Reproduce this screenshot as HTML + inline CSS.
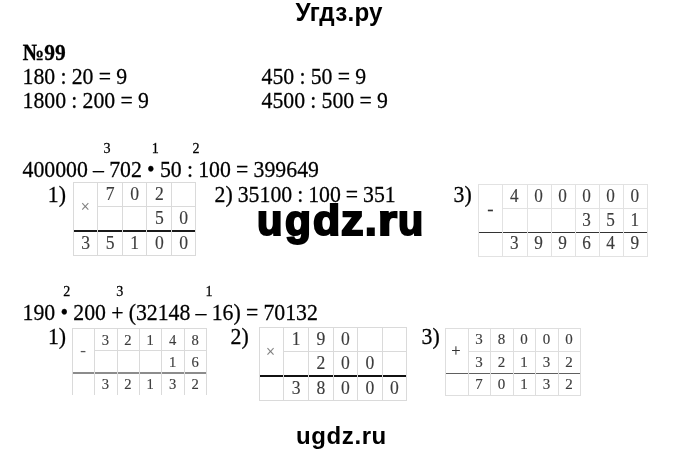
<!DOCTYPE html>
<html><head><meta charset="utf-8">
<style>
html,body{margin:0;padding:0;background:#fff;}
body{width:680px;height:454px;position:relative;overflow:hidden;filter:blur(0.3px);font-family:"Liberation Serif",serif;color:#000;}
.t{position:absolute;white-space:nowrap;line-height:1;word-spacing:-0.25px;}
.b{margin:0;}
.sr{transform:scaleY(1.08);transform-origin:0 83.75%;-webkit-text-stroke:0.25px #000;}
.hd{font-family:"Liberation Sans",sans-serif;font-weight:bold;}
.wm{top:199.9px;font-size:42.2px;-webkit-text-stroke:2.1px #000;transform-origin:0 0;}
.tb{position:absolute;}
.tb i{position:absolute;display:block;}
.tb b{position:absolute;display:block;width:20px;text-align:center;line-height:1;font-weight:normal;transform:scaleY(1.04);-webkit-text-stroke:0.15px currentColor;}
</style></head><body>
<div class="t hd" id="h1" style="left:295.5px;top:0.98px;font-size:24.2px;letter-spacing:0.25px;transform:scaleY(1.05);transform-origin:0 84.65%;">Угдз.ру</div>
<div class="t hd wm" id="wm0" style="left:257.27px;transform:scaleX(0.988);">u</div><div class="t hd wm" id="wm1" style="left:284.72px;transform:scaleX(1.007);">g</div><div class="t hd wm" id="wm2" style="left:312.67px;transform:scaleX(1.055);">d</div><div class="t hd wm" id="wm3" style="left:340.66px;transform:scaleX(1.065);">z</div><div class="t hd wm" id="wm4" style="left:364.56px;transform:scaleX(0.993);">.</div><div class="t hd wm" id="wm5" style="left:378.24px;transform:scaleX(1.157);">r</div><div class="t hd wm" id="wm6" style="left:397.69px;transform:scaleX(0.978);">u</div>
<div class="t hd" id="ft" style="left:296px;top:424.2px;font-size:24px;letter-spacing:0.6px;">ugdz.ru</div>
<div class="t sr" id="n99" style="left:22.60px;top:42.56px;font-size:21.5px;font-weight:bold;">№99</div>
<div class="t sr" id="l1" style="left:22.50px;top:66.72px;font-size:21.8px;">180 : 20 = 9</div>
<div class="t sr" id="l2" style="left:22.50px;top:91.12px;font-size:21.8px;">1800 : 200 = 9</div>
<div class="t sr" id="l3" style="left:261.50px;top:66.72px;font-size:21.8px;">450 : 50 = 9</div>
<div class="t sr" id="l4" style="left:261.50px;top:91.12px;font-size:21.8px;">4500 : 500 = 9</div>
<div class="t sr" id="s1" style="left:103.60px;top:141.40px;font-size:14.1px;">3</div>
<div class="t sr" id="s2" style="left:151.80px;top:141.40px;font-size:14.1px;">1</div>
<div class="t sr" id="s3" style="left:192.40px;top:141.40px;font-size:14.1px;">2</div>
<div class="t sr" id="e1" style="left:22.50px;top:160.32px;font-size:21.8px;">400000 – 702 <span class="b">•</span> 50 : 100 = 399649</div>
<div class="t sr" id="p1" style="left:47.80px;top:184.82px;font-size:21.8px;">1)</div>
<div class="t sr" id="p2" style="left:214.60px;top:184.82px;font-size:21.8px;word-spacing:-0.5px;">2) 35100 : 100 = 351</div>
<div class="t sr" id="p3" style="left:453.50px;top:184.82px;font-size:21.8px;">3)</div>
<div class="t sr" id="s4" style="left:63.30px;top:283.70px;font-size:14.1px;">2</div>
<div class="t sr" id="s5" style="left:116.20px;top:283.70px;font-size:14.1px;">3</div>
<div class="t sr" id="s6" style="left:205.50px;top:283.70px;font-size:14.1px;">1</div>
<div class="t sr" id="e2" style="left:22.50px;top:302.92px;font-size:21.8px;">190 <span class="b">•</span> 200 + (32148 – 16) = 70132</div>
<div class="t sr" id="p4" style="left:47.90px;top:327.42px;font-size:21.8px;">1)</div>
<div class="t sr" id="p5" style="left:230.50px;top:327.42px;font-size:21.8px;">2)</div>
<div class="t sr" id="p6" style="left:421.50px;top:327.42px;font-size:21.8px;">3)</div>
<div class="tb" id="t1" style="left:73.40px;top:182.40px;width:122.20px;height:72.80px;"><i style="left:-0.5px;top:47.60px;width:123.20px;height:2px;background:#1a1a1a"></i><i style="left:-0.50px;top:-0.5px;width:1px;height:73.30px;background:#dadada"></i><i style="left:23.90px;top:-0.5px;width:1px;height:73.30px;background:#dadada"></i><i style="left:48.50px;top:-0.5px;width:1px;height:73.30px;background:#dadada"></i><i style="left:73.10px;top:-0.5px;width:1px;height:73.30px;background:#dadada"></i><i style="left:97.70px;top:-0.5px;width:1px;height:73.30px;background:#dadada"></i><i style="left:121.70px;top:-0.5px;width:1px;height:73.30px;background:#dadada"></i><i style="left:-0.5px;top:-0.5px;width:123.20px;height:1px;background:#dadada"></i><i style="left:24.40px;top:23.50px;width:97.80px;height:1px;background:#dadada"></i><i style="left:-0.5px;top:72.30px;width:123.20px;height:1px;background:#dadada"></i><b style="left:26.70px;top:3.51px;font-size:17.60px;color:#3c3c3c">7</b><b style="left:51.30px;top:3.51px;font-size:17.60px;color:#3c3c3c">0</b><b style="left:75.90px;top:3.51px;font-size:17.60px;color:#3c3c3c">2</b><b style="left:75.90px;top:27.81px;font-size:17.60px;color:#3c3c3c">5</b><b style="left:100.20px;top:27.81px;font-size:17.60px;color:#3c3c3c">0</b><b style="left:2.20px;top:52.21px;font-size:17.60px;color:#3c3c3c">3</b><b style="left:26.70px;top:52.21px;font-size:17.60px;color:#3c3c3c">5</b><b style="left:51.30px;top:52.21px;font-size:17.60px;color:#3c3c3c">1</b><b style="left:75.90px;top:52.21px;font-size:17.60px;color:#3c3c3c">0</b><b style="left:100.20px;top:52.21px;font-size:17.60px;color:#3c3c3c">0</b><b style="left:1.90px;top:16.35px;font-size:16.00px;color:#777">×</b></div>
<div class="tb" id="t3" style="left:478.90px;top:184.80px;width:168.49px;height:71.30px;"><i style="left:-0.5px;top:46.80px;width:169.49px;height:1.4px;background:#333"></i><i style="left:-0.50px;top:-0.5px;width:1px;height:71.80px;background:#e2e2e2"></i><i style="left:23.57px;top:-0.5px;width:1px;height:71.80px;background:#e2e2e2"></i><i style="left:47.64px;top:-0.5px;width:1px;height:71.80px;background:#e2e2e2"></i><i style="left:71.71px;top:-0.5px;width:1px;height:71.80px;background:#e2e2e2"></i><i style="left:95.78px;top:-0.5px;width:1px;height:71.80px;background:#e2e2e2"></i><i style="left:119.85px;top:-0.5px;width:1px;height:71.80px;background:#e2e2e2"></i><i style="left:143.92px;top:-0.5px;width:1px;height:71.80px;background:#e2e2e2"></i><i style="left:167.99px;top:-0.5px;width:1px;height:71.80px;background:#e2e2e2"></i><i style="left:-0.5px;top:-0.5px;width:169.49px;height:1px;background:#e2e2e2"></i><i style="left:24.07px;top:23.40px;width:144.42px;height:1px;background:#e2e2e2"></i><i style="left:-0.5px;top:70.80px;width:169.49px;height:1px;background:#e2e2e2"></i><b style="left:25.50px;top:3.16px;font-size:17.20px;color:#3c3c3c">4</b><b style="left:49.58px;top:3.16px;font-size:17.20px;color:#3c3c3c">0</b><b style="left:73.65px;top:3.16px;font-size:17.20px;color:#3c3c3c">0</b><b style="left:97.72px;top:3.16px;font-size:17.20px;color:#3c3c3c">0</b><b style="left:121.78px;top:3.16px;font-size:17.20px;color:#3c3c3c">0</b><b style="left:145.85px;top:3.16px;font-size:17.20px;color:#3c3c3c">0</b><b style="left:97.72px;top:26.91px;font-size:17.20px;color:#3c3c3c">3</b><b style="left:121.78px;top:26.91px;font-size:17.20px;color:#3c3c3c">5</b><b style="left:145.85px;top:26.91px;font-size:17.20px;color:#3c3c3c">1</b><b style="left:25.50px;top:50.61px;font-size:17.20px;color:#3c3c3c">3</b><b style="left:49.58px;top:50.61px;font-size:17.20px;color:#3c3c3c">9</b><b style="left:73.65px;top:50.61px;font-size:17.20px;color:#3c3c3c">9</b><b style="left:97.72px;top:50.61px;font-size:17.20px;color:#3c3c3c">6</b><b style="left:121.78px;top:50.61px;font-size:17.20px;color:#3c3c3c">4</b><b style="left:145.85px;top:50.61px;font-size:17.20px;color:#3c3c3c">9</b><b style="left:1.53px;top:14.26px;font-size:19.00px;color:#333">-</b></div>
<div class="tb" id="t4" style="left:72.30px;top:328.90px;width:134.52px;height:66.50px;"><i style="left:-0.5px;top:43.30px;width:135.52px;height:1.4px;background:#8c8c8c"></i><i style="left:-0.50px;top:-0.5px;width:1px;height:66.50px;background:#dadada"></i><i style="left:21.92px;top:-0.5px;width:1px;height:66.50px;background:#dadada"></i><i style="left:44.34px;top:-0.5px;width:1px;height:66.50px;background:#dadada"></i><i style="left:66.76px;top:-0.5px;width:1px;height:66.50px;background:#dadada"></i><i style="left:89.18px;top:-0.5px;width:1px;height:66.50px;background:#dadada"></i><i style="left:111.60px;top:-0.5px;width:1px;height:66.50px;background:#dadada"></i><i style="left:134.02px;top:-0.5px;width:1px;height:66.50px;background:#dadada"></i><i style="left:-0.5px;top:-0.5px;width:135.52px;height:1px;background:#dadada"></i><i style="left:22.42px;top:21.60px;width:112.10px;height:1px;background:#dadada"></i><b style="left:23.13px;top:3.76px;font-size:14.60px;color:#3c3c3c">3</b><b style="left:45.55px;top:3.76px;font-size:14.60px;color:#3c3c3c">2</b><b style="left:67.97px;top:3.76px;font-size:14.60px;color:#3c3c3c">1</b><b style="left:90.39px;top:3.76px;font-size:14.60px;color:#3c3c3c">4</b><b style="left:112.81px;top:3.76px;font-size:14.60px;color:#3c3c3c">8</b><b style="left:90.39px;top:25.76px;font-size:14.60px;color:#3c3c3c">1</b><b style="left:112.81px;top:25.76px;font-size:14.60px;color:#3c3c3c">6</b><b style="left:23.13px;top:47.96px;font-size:14.60px;color:#3c3c3c">3</b><b style="left:45.55px;top:47.96px;font-size:14.60px;color:#3c3c3c">2</b><b style="left:67.97px;top:47.96px;font-size:14.60px;color:#3c3c3c">1</b><b style="left:90.39px;top:47.96px;font-size:14.60px;color:#3c3c3c">3</b><b style="left:112.81px;top:47.96px;font-size:14.60px;color:#3c3c3c">2</b><b style="left:0.71px;top:13.49px;font-size:17.00px;color:#555">-</b></div>
<div class="tb" id="t5" style="left:259.20px;top:327.30px;width:147.30px;height:73.00px;"><i style="left:-0.5px;top:47.90px;width:148.30px;height:1.8px;background:#111"></i><i style="left:-0.50px;top:-0.5px;width:1px;height:73.50px;background:#dadada"></i><i style="left:24.20px;top:-0.5px;width:1px;height:73.50px;background:#dadada"></i><i style="left:48.90px;top:-0.5px;width:1px;height:73.50px;background:#dadada"></i><i style="left:73.60px;top:-0.5px;width:1px;height:73.50px;background:#dadada"></i><i style="left:97.90px;top:-0.5px;width:1px;height:73.50px;background:#dadada"></i><i style="left:122.50px;top:-0.5px;width:1px;height:73.50px;background:#dadada"></i><i style="left:146.80px;top:-0.5px;width:1px;height:73.50px;background:#dadada"></i><i style="left:-0.5px;top:-0.5px;width:148.30px;height:1px;background:#dadada"></i><i style="left:24.70px;top:23.80px;width:122.60px;height:1px;background:#dadada"></i><i style="left:-0.5px;top:72.50px;width:148.30px;height:1px;background:#dadada"></i><b style="left:27.05px;top:3.66px;font-size:17.60px;color:#3c3c3c">1</b><b style="left:51.75px;top:3.66px;font-size:17.60px;color:#3c3c3c">9</b><b style="left:76.25px;top:3.66px;font-size:17.60px;color:#3c3c3c">0</b><b style="left:51.75px;top:28.06px;font-size:17.60px;color:#3c3c3c">2</b><b style="left:76.25px;top:28.06px;font-size:17.60px;color:#3c3c3c">0</b><b style="left:100.70px;top:28.06px;font-size:17.60px;color:#3c3c3c">0</b><b style="left:27.05px;top:52.41px;font-size:17.60px;color:#3c3c3c">3</b><b style="left:51.75px;top:52.41px;font-size:17.60px;color:#3c3c3c">8</b><b style="left:76.25px;top:52.41px;font-size:17.60px;color:#3c3c3c">0</b><b style="left:100.70px;top:52.41px;font-size:17.60px;color:#3c3c3c">0</b><b style="left:125.15px;top:52.41px;font-size:17.60px;color:#3c3c3c">0</b><b style="left:1.35px;top:16.45px;font-size:16.00px;color:#777">×</b></div>
<div class="tb" id="t6" style="left:445.50px;top:328.90px;width:135.12px;height:66.90px;"><i style="left:-0.5px;top:43.90px;width:136.12px;height:1.4px;background:#606060"></i><i style="left:-0.50px;top:-0.5px;width:1px;height:67.40px;background:#dedede"></i><i style="left:22.02px;top:-0.5px;width:1px;height:67.40px;background:#dedede"></i><i style="left:44.54px;top:-0.5px;width:1px;height:67.40px;background:#dedede"></i><i style="left:67.06px;top:-0.5px;width:1px;height:67.40px;background:#dedede"></i><i style="left:89.58px;top:-0.5px;width:1px;height:67.40px;background:#dedede"></i><i style="left:112.10px;top:-0.5px;width:1px;height:67.40px;background:#dedede"></i><i style="left:134.62px;top:-0.5px;width:1px;height:67.40px;background:#dedede"></i><i style="left:-0.5px;top:-0.5px;width:136.12px;height:1px;background:#dedede"></i><i style="left:22.52px;top:21.80px;width:112.60px;height:1px;background:#dedede"></i><i style="left:-0.5px;top:66.40px;width:136.12px;height:1px;background:#dedede"></i><b style="left:23.38px;top:3.46px;font-size:15.00px;color:#3c3c3c">3</b><b style="left:45.90px;top:3.46px;font-size:15.00px;color:#3c3c3c">8</b><b style="left:68.42px;top:3.46px;font-size:15.00px;color:#3c3c3c">0</b><b style="left:90.94px;top:3.46px;font-size:15.00px;color:#3c3c3c">0</b><b style="left:113.46px;top:3.46px;font-size:15.00px;color:#3c3c3c">0</b><b style="left:23.38px;top:25.76px;font-size:15.00px;color:#3c3c3c">3</b><b style="left:45.90px;top:25.76px;font-size:15.00px;color:#3c3c3c">2</b><b style="left:68.42px;top:25.76px;font-size:15.00px;color:#3c3c3c">1</b><b style="left:90.94px;top:25.76px;font-size:15.00px;color:#3c3c3c">3</b><b style="left:113.46px;top:25.76px;font-size:15.00px;color:#3c3c3c">2</b><b style="left:23.38px;top:48.06px;font-size:15.00px;color:#3c3c3c">7</b><b style="left:45.90px;top:48.06px;font-size:15.00px;color:#3c3c3c">0</b><b style="left:68.42px;top:48.06px;font-size:15.00px;color:#3c3c3c">1</b><b style="left:90.94px;top:48.06px;font-size:15.00px;color:#3c3c3c">3</b><b style="left:113.46px;top:48.06px;font-size:15.00px;color:#3c3c3c">2</b><b style="left:0.46px;top:14.16px;font-size:16.50px;color:#333">+</b></div>
</body></html>
